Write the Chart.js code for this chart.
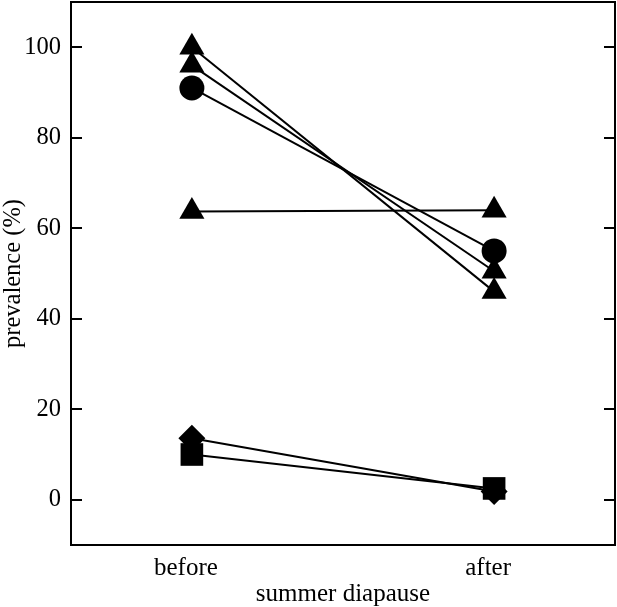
<!DOCTYPE html>
<html>
<head>
<meta charset="utf-8">
<script src="https://cdn.jsdelivr.net/npm/chart.js@4/dist/chart.umd.min.js"></script>
<style>
  html, body { margin: 0; padding: 0; background: #fff; }
  #wrap { width: 617px; height: 607px; position: relative; }
</style>
</head>
<body>
<div id="wrap"><canvas id="prevChart"></canvas></div>
<script>
// x positions: before = 0, after = 1
const categories = ['before', 'after'];
const yTickValues = [0, 20, 40, 60, 80, 100];

// prevalence (%) before / after summer diapause, one pair per population
const triangleA = [100, 46];
const triangleB = [96, 50.5];
const circleA   = [91, 55];
const triangleC = [63.7, 64];
const diamondA  = [13.6, 1.8];
const squareA   = [10, 2.5];

const seriesList = [
  { values: triangleA, shape: 'triangle', size: 14.5 },
  { values: triangleB, shape: 'triangle', size: 14.5 },
  { values: circleA,   shape: 'circle',   size: 12.5 },
  { values: triangleC, shape: 'triangle', size: 14.5 },
  { values: diamondA,  shape: 'rectRot',  size: 13.5 },
  { values: squareA,   shape: 'rect',     size: 16 },
];

const serif = '"Liberation Serif", "DejaVu Serif", serif';

// box round the plot + inward tick marks on both sides
const framePlugin = {
  id: 'frame',
  afterDraw(chart) {
    const { ctx: c, chartArea: a, scales } = chart;
    c.save();
    c.strokeStyle = '#000';
    c.lineWidth = 2;
    c.strokeRect(a.left, a.top, a.right - a.left, a.bottom - a.top);
    c.beginPath();
    scales.y.ticks.forEach(t => {
      const py = Math.round(scales.y.getPixelForValue(t.value));
      c.moveTo(a.left, py); c.lineTo(a.left + 11, py);
      c.moveTo(a.right, py); c.lineTo(a.right - 11, py);
    });
    c.stroke();
    c.restore();
  }
};

new Chart(document.getElementById('prevChart'), {
  type: 'scatter',
  data: {
    datasets: seriesList.map(s => ({
      data: s.values.map((v, i) => ({ x: i, y: v })),
      showLine: true,
      borderColor: '#000',
      borderWidth: 2,
      backgroundColor: '#000',
      pointStyle: s.shape,
      pointRadius: s.size,
      pointHoverRadius: s.size,
      pointBorderWidth: 0,
    }))
  },
  options: {
    responsive: true,
    maintainAspectRatio: false,
    animation: false,
    events: [],
    layout: { autoPadding: false, padding: { top: 2, right: 2, left: 0, bottom: 0 } },
    plugins: {
      legend: { display: false },
      tooltip: { enabled: false }
    },
    scales: {
      x: {
        type: 'linear',
        min: -0.4,
        max: 1.4,
        grid: { display: false, drawTicks: false },
        border: { display: false },
        afterBuildTicks: sc => { sc.ticks = categories.map((c, i) => ({ value: i })); },
        afterFit: sc => { sc.height = 62; sc.paddingLeft = 0; sc.paddingRight = 0; },
        ticks: {
          padding: 8,
          labelOffset: -6,
          color: '#000',
          font: { family: serif, size: 25 },
          maxRotation: 0,
          callback: v => categories[v]
        },
        title: {
          display: true,
          text: 'summer diapause',
          color: '#000',
          font: { family: serif, size: 25 },
          padding: { top: 0, bottom: -2 }
        }
      },
      y: {
        min: -10,
        max: 110,
        grid: { display: false, drawTicks: false },
        border: { display: false },
        afterBuildTicks: sc => { sc.ticks = yTickValues.map(v => ({ value: v })); },
        afterFit: sc => { sc.width = 71; sc.paddingTop = 0; sc.paddingBottom = 0; },
        ticks: {
          padding: 10,
          color: '#000',
          font: { family: serif, size: 24.5 }
        },
        title: {
          display: true,
          text: 'prevalence (%)',
          color: '#000',
          font: { family: serif, size: 24.5 },
          padding: { top: -1, bottom: 0 }
        }
      }
    }
  },
  plugins: [framePlugin]
});
</script>
</body>
</html>
